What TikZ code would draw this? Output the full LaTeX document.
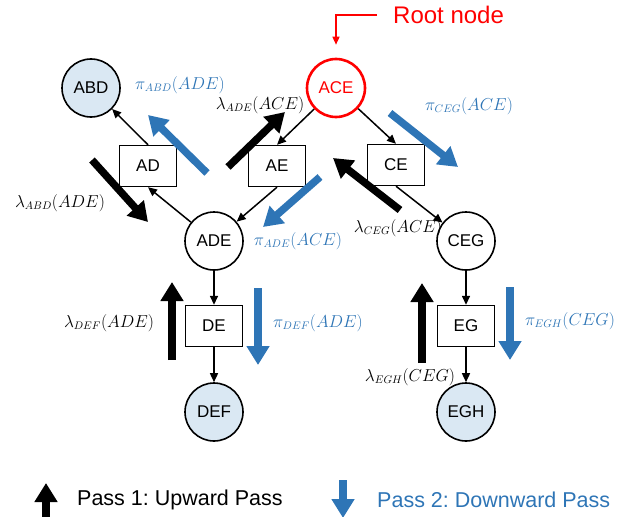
\documentclass[tikz,border=0pt]{standalone}
\usepackage[no-math]{fontspec}
\setmainfont{Liberation Sans}
\usepackage{tikz}
\usetikzlibrary{
    arrows.meta,
    positioning
}
\definecolor{passblue}{RGB}{46,117,182}
\definecolor{leafblue}{RGB}{218,232,243}
\definecolor{rootred}{RGB}{255,0,0}
\frenchspacing

\begin{document}
\begin{tikzpicture}[x=1pt, y=-1pt,
    clique/.style={circle, draw, line width=1.6pt, minimum size=58pt, inner sep=0pt, font=\fontsize{17}{20}\selectfont},
    leaf/.style={clique, fill=leafblue},
    sepset/.style={rectangle, draw, line width=1.4pt, minimum width=57pt, minimum height=41pt, font=\fontsize{17}{20}\selectfont},
    edge/.style={line width=1.5pt, -{Triangle[length=9pt, width=8pt]}},
    uppass/.style={line width=7.5pt, -{Triangle[length=19pt, width=22pt]}},
    downpass/.style={uppass, passblue},
    msg/.style={font=\fontsize{16}{19}\selectfont}]
                        \useasboundingbox (0,0) rectangle (636,516);
                        % cliques and separators
                        \node[leaf] (ABD) at (91, 88) {ABD};
                        \node[clique, draw=rootred, text=rootred, line width=2.6pt] (ACE) at (336, 88) {ACE};
                        \node[clique] (ADE) at (214, 241) {ADE};
                        \node[clique] (CEG) at (466, 241) {CEG};
                        \node[leaf] (DEF) at (214, 412) {DEF};
                        \node[leaf] (EGH) at (466, 412) {EGH};
                        \node[sepset] (AD) at (148, 166) {AD};
                        \node[sepset] (AE) at (277, 166) {AE};
                        \node[sepset] (CE) at (396, 165) {CE};
                        \node[sepset] (DE) at (214, 326) {DE};
                        \node[sepset] (EG) at (466, 326) {EG};
                        \foreach \a/\b in {AD.north/ABD, ADE/AD.south, ACE/AE.north, AE.south/ADE,
                                           ACE/CE.north, CE.south/CEG, ADE/DE, DE/DEF, CEG/EG, EG/EGH}
                            \draw[edge] (\a) -- (\b);
                        % messages
                        \draw[uppass] (92, 160) -- (148, 222);
                        \draw[downpass] (207, 173) -- (148, 115);
                        \draw[uppass] (228, 167) -- (285, 112);
                        \draw[downpass] (320, 177) -- (263, 227);
                        \draw[downpass] (390, 113) -- (458, 167);
                        \draw[uppass] (400, 210) -- (333, 158);
                        \draw[uppass] (172, 360) -- (172, 282);
                        \draw[downpass] (258, 288) -- (258, 365);
                        \draw[uppass] (422, 363) -- (422, 283);
                        \draw[downpass] (510, 287) -- (510, 360);
                        \node[msg] (lABD) at (60, 203) {$\lambda_{ABD}(ADE)$};
                        \node[msg, text=passblue] (pABD) at (180, 85) {$\pi_{ABD}(ADE)$};
                        \node[msg] (lADE) at (260, 105) {$\lambda_{ADE}(ACE)$};
                        \node[msg, text=passblue] (pADE) at (298, 241) {$\pi_{ADE}(ACE)$};
                        \node[msg, text=passblue] (pCEG) at (469, 106) {$\pi_{CEG}(ACE)$};
                        \node[msg] (lCEG) at (398, 228) {$\lambda_{CEG}(ACE)$};
                        \node[msg] (lDEF) at (109, 323) {$\lambda_{DEF}(ADE)$};
                        \node[msg, text=passblue] (pDEF) at (318, 323) {$\pi_{DEF}(ADE)$};
                        \node[msg] (lEGH) at (410, 377) {$\lambda_{EGH}(CEG)$};
                        \node[msg, text=passblue] (pEGH) at (570, 321) {$\pi_{EGH}(CEG)$};
                        % root pointer
                        \node[anchor=west, inner sep=0pt, text=rootred, font=\fontsize{24}{28}\selectfont] (root) at (393, 15) {Root node};
                        \draw[rootred, line width=1.4pt, -{Triangle[length=8pt, width=7pt]}, shorten <=16pt, shorten >=13pt]
                        (root.west) -| (ACE.north);
                        % legend
                        \node[anchor=west, inner sep=0pt, font=\fontsize{21.5}{26}\selectfont] (pass1) at (77, 500) {Pass 1: Upward Pass};
                        \node[anchor=west, inner sep=0pt, text=passblue, font=\fontsize{21.5}{26}\selectfont] (pass2) at (377, 500) {Pass 2: Downward Pass};
                        \draw[uppass] (46, 517) -- (46, 483);
                        \draw[downpass] (343, 480) -- (343, 518);
                    \end{tikzpicture}
\end{document}
